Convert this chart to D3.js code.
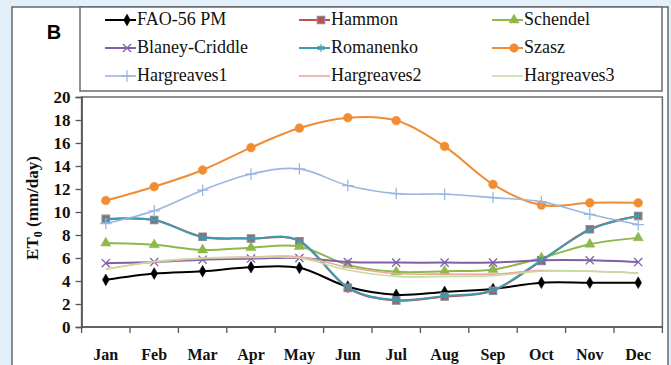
<!DOCTYPE html>
<html>
<head>
<meta charset="utf-8">
<script src="https://cdn.jsdelivr.net/npm/d3@7"></script>
<style>
  body { margin: 0; background: #e3f0fa; }
  svg { display: block; }
</style>
</head>
<body>
<script>
// monthly ET0 (mm/day) per method
let months = ["Jan", "Feb", "Mar", "Apr", "May", "Jun", "Jul", "Aug", "Sep", "Oct", "Nov", "Dec"];
let yTicks = [0, 2, 4, 6, 8, 10, 12, 14, 16, 18, 20];

let fao = [4.1, 4.65, 4.85, 5.2, 5.15, 3.5, 2.8, 3.05, 3.3, 3.85, 3.85, 3.85];
let hammon = [9.4, 9.3, 7.85, 7.7, 7.45, 3.4, 2.3, 2.65, 3.15, 5.75, 8.5, 9.65];
let schendel = [7.3, 7.15, 6.7, 6.9, 7.0, 5.4, 4.8, 4.85, 5.0, 6.0, 7.2, 7.75];
let blaney = [5.55, 5.65, 5.85, 5.95, 6.0, 5.65, 5.6, 5.6, 5.6, 5.8, 5.8, 5.65];
let romanenko = [9.35, 9.3, 7.8, 7.7, 7.5, 3.45, 2.35, 2.7, 3.2, 5.8, 8.45, 9.65];
let szasz = [11.0, 12.2, 13.65, 15.6, 17.3, 18.2, 17.95, 15.7, 12.4, 10.6, 10.8, 10.8];
let harg1 = [9.0, 10.1, 11.9, 13.3, 13.75, 12.3, 11.6, 11.55, 11.25, 10.9, 9.8, 8.9];
let harg2 = [5.05, 5.65, 5.95, 6.1, 6.1, 5.2, 4.65, 4.6, 4.6, 4.9, 4.85, 4.7];
let harg3 = [5.0, 5.7, 6.0, 6.05, 6.0, 4.95, 4.4, 4.4, 4.45, 4.85, 4.85, 4.7];

let series = [
  { name: "FAO-56 PM", values: fao, color: "#000000", width: 2, marker: d3.symbolDiamond, size: 40, fill: true },
  { name: "Hammon", values: hammon, color: "#c0504d", width: 2, marker: d3.symbolSquare, size: 55, fill: true, outline: "#8a8a9a" },
  { name: "Schendel", values: schendel, color: "#8fb84a", width: 2, marker: d3.symbolTriangle, size: 45, fill: true },
  { name: "Blaney-Criddle", values: blaney, color: "#7e5fa8", width: 2, marker: d3.symbolTimes, size: 45, fill: false },
  { name: "Romanenko", values: romanenko, color: "#3e9bb0", width: 2, marker: d3.symbolAsterisk, size: 40, fill: false },
  { name: "Szasz", values: szasz, color: "#f28c33", width: 2, marker: d3.symbolCircle, size: 60, fill: true },
  { name: "Hargreaves1", values: harg1, color: "#9ab7e2", width: 1.6, marker: d3.symbolPlus, size: 45, fill: false },
  { name: "Hargreaves2", values: harg2, color: "#eea49f", width: 1.6, marker: null },
  { name: "Hargreaves3", values: harg3, color: "#c5dd9f", width: 1.6, marker: null }
];

let svg = d3.select("body").append("svg")
  .attr("width", 671)
  .attr("height", 365);

let serif = "'Liberation Serif', 'Times New Roman', serif";

// outer white panel
svg.append("rect")
  .attr("x", 12).attr("y", 7)
  .attr("width", 656).attr("height", 380)
  .attr("fill", "white")
  .attr("stroke", "#444").attr("stroke-width", 1.2);

svg.append("text")
  .attr("x", 54).attr("y", 39)
  .attr("text-anchor", "middle")
  .attr("font-family", "'Liberation Sans', Arial, sans-serif")
  .attr("font-weight", "bold")
  .attr("font-size", 20)
  .text("B");

let margin = { top: 97, left: 81.6, right: 662.4, bottom: 327 };

let x = d3.scaleBand()
  .domain(months)
  .range([margin.left, margin.right]);

let y = d3.scaleLinear()
  .domain([0, 20])
  .range([margin.bottom, margin.top]);

let cx = d => x(d) + x.bandwidth() / 2;

// plot frame
svg.append("rect")
  .attr("x", margin.left).attr("y", margin.top)
  .attr("width", margin.right - margin.left)
  .attr("height", margin.bottom - margin.top)
  .attr("fill", "white")
  .attr("stroke", "#6a6a72").attr("stroke-width", 1.5);

// y axis
let yAxis = svg.append("g")
  .attr("transform", `translate(${margin.left},0)`)
  .call(d3.axisLeft(y).tickValues(yTicks).tickSize(6).tickPadding(5));
yAxis.select(".domain").attr("stroke", "#555").attr("stroke-width", 1.5);
yAxis.selectAll(".tick line").attr("stroke", "#555").attr("stroke-width", 1.3);
yAxis.selectAll("text")
  .attr("font-family", serif)
  .attr("font-size", 17)
  .attr("font-weight", "bold")
  .attr("fill", "#111");

// x axis: ticks sit between months
let xAxis = svg.append("g");
xAxis.append("line")
  .attr("x1", margin.left).attr("x2", margin.right)
  .attr("y1", margin.bottom).attr("y2", margin.bottom)
  .attr("stroke", "#555").attr("stroke-width", 1.5);
xAxis.selectAll(".xt")
  .data(months.concat(["end"]))
  .enter().append("line")
  .attr("x1", (d, i) => i < months.length ? x(d) : margin.right)
  .attr("x2", (d, i) => i < months.length ? x(d) : margin.right)
  .attr("y1", margin.bottom)
  .attr("y2", margin.bottom + 6)
  .attr("stroke", "#555").attr("stroke-width", 1.3);
xAxis.selectAll(".xl")
  .data(months)
  .enter().append("text")
  .attr("x", d => cx(d))
  .attr("y", 360)
  .attr("text-anchor", "middle")
  .attr("font-family", serif)
  .attr("font-size", 16)
  .attr("font-weight", "bold")
  .attr("fill", "#111")
  .text(d => d);

// y title with subscript
let yt = svg.append("text")
  .attr("transform", "translate(38,208) rotate(-90)")
  .attr("text-anchor", "middle")
  .attr("font-family", serif)
  .attr("font-size", 17)
  .attr("font-weight", "bold")
  .attr("fill", "#111");
yt.append("tspan").text("ET");
yt.append("tspan").attr("font-size", 12).attr("dy", 4).text("0");
yt.append("tspan").attr("dy", -4).text(" (mm/day)");

let line = d3.line()
  .x((d, i) => cx(months[i]))
  .y(d => y(d))
  .curve(d3.curveCardinal.tension(0));

function drawMarker(g, s, px, py) {
  if (!s.marker) return;
  g.append("path")
    .attr("transform", `translate(${px},${py})`)
    .attr("d", d3.symbol().type(s.marker).size(s.size)())
    .attr("fill", s.fill ? s.color : "none")
    .attr("stroke", s.outline || s.color)
    .attr("stroke-width", s.fill ? (s.outline ? 1.2 : 0.5) : 1.3);
}

series.forEach(s => {
  let g = svg.append("g");
  g.append("path")
    .attr("d", line(s.values))
    .attr("fill", "none")
    .attr("stroke", s.color)
    .attr("stroke-width", s.width);
  s.values.forEach((v, i) => drawMarker(g, s, cx(months[i]), y(v)));
});

// legend
let legend = svg.append("g");
legend.append("rect")
  .attr("x", 80).attr("y", 7)
  .attr("width", 582).attr("height", 84)
  .attr("fill", "white")
  .attr("stroke", "#6a6a72").attr("stroke-width", 1.5);

let colX = [105, 299, 492];
let rowY = [20, 48, 76];

series.forEach((s, i) => {
  let lx = colX[i % 3];
  let ly = rowY[Math.floor(i / 3)];
  let g = legend.append("g");
  g.append("line")
    .attr("x1", lx).attr("x2", lx + 31)
    .attr("y1", ly).attr("y2", ly)
    .attr("stroke", s.color)
    .attr("stroke-width", s.width);
  drawMarker(g, s, lx + 22, ly);
  g.append("text")
    .attr("x", lx + 32)
    .attr("y", ly + 5)
    .attr("font-family", serif)
    .attr("font-size", 18)
    .attr("fill", "#111")
    .text(s.name);
});
</script>
</body>
</html>
